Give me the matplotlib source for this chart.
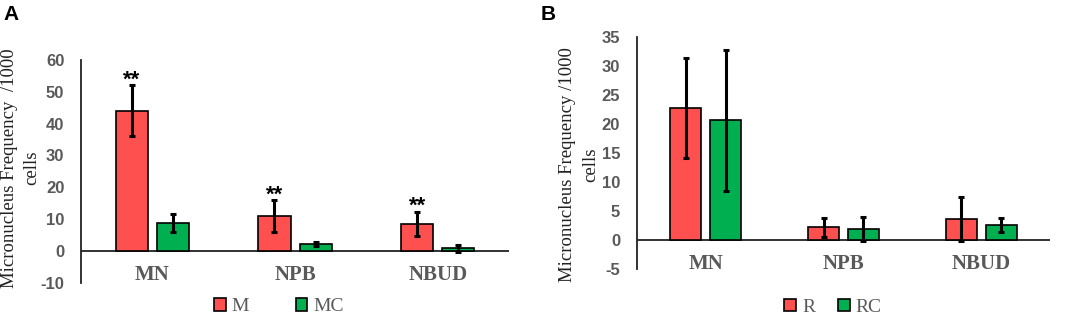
import matplotlib.pyplot as plt
import numpy as np

plt.rcParams['axes.unicode_minus'] = False

categories = ['MN', 'NPB', 'NBUD']

# Panel A: M vs MC
m_values = [44.0, 11.0, 8.5]
m_errors = [8.0, 5.0, 3.9]
mc_values = [8.8, 2.2, 0.8]
mc_errors = [2.9, 0.6, 1.2]
m_stars = ['**', '**', '**']

# Panel B: R vs RC
r_values = [22.7, 2.2, 3.6]
r_errors = [8.6, 1.6, 3.8]
rc_values = [20.6, 1.9, 2.6]
rc_errors = [12.1, 2.0, 1.2]

RED = '#ff5050'
GREEN = '#00b050'
GREY = '#595959'
SERIF = 'Liberation Serif'
SANS = 'Liberation Sans'


def draw_panel(ax, vals1, errs1, vals2, errs2, names, ylim, step,
               legend_x, legend_y, colspace, stars=None):
    """Draw one grouped bar panel with error bars."""
    x = np.arange(len(categories))
    w = 0.225
    off = 0.144
    ekw = dict(ecolor='black', elinewidth=2.2, capsize=2.3, capthick=2.2)
    ax.bar(x - off, vals1, w, yerr=errs1, color=RED, edgecolor='black',
           linewidth=1.2, label=names[0], error_kw=ekw, zorder=2)
    ax.bar(x + off, vals2, w, yerr=errs2, color=GREEN, edgecolor='black',
           linewidth=1.2, label=names[1], error_kw=ekw, zorder=2)
    if stars:
        for i, s in enumerate(stars):
            ax.annotate(s, xy=(x[i] - off, vals1[i] + errs1[i]),
                        xytext=(0, -4), textcoords='offset points',
                        ha='center', va='bottom', fontsize=16,
                        fontweight='bold', family=SANS, color='black')
    ax.set_xlim(-0.5, len(categories) - 0.5)
    ax.set_ylim(*ylim)
    ax.set_yticks(np.arange(ylim[0], ylim[1] + 1, step))
    ax.axhline(0, color='#222222', linewidth=1.3, zorder=1)
    for side in ['top', 'right', 'bottom']:
        ax.spines[side].set_visible(False)
    ax.spines['left'].set_linewidth(1.3)
    ax.spines['left'].set_color('#222222')
    ax.tick_params(axis='both', length=0)
    ax.set_xticks([])
    for lab in ax.get_yticklabels():
        lab.set_fontweight('bold')
        lab.set_fontfamily(SANS)
        lab.set_fontsize(12)
        lab.set_color(GREY)
    ax.tick_params(axis='y', pad=12)
    # category labels just below the zero line
    for i, c in enumerate(categories):
        ax.annotate(c, xy=(x[i], 0), xytext=(0, -10), textcoords='offset points',
                    ha='center', va='top', fontsize=15, fontweight='bold',
                    family=SERIF, color=GREY)
    leg = ax.legend(loc='center', bbox_to_anchor=(legend_x, legend_y), ncol=2,
                    frameon=False, prop={'family': SERIF, 'size': 14},
                    handlelength=0.6, handleheight=0.6, handletextpad=0.3,
                    columnspacing=colspace, borderpad=0)
    for t in leg.get_texts():
        t.set_color(GREY)


fig = plt.figure(figsize=(10.65, 3.15), dpi=100)
ax_a = fig.add_axes([0.076, 0.102, 0.402, 0.708])
ax_b = fig.add_axes([0.598, 0.146, 0.388, 0.737])

draw_panel(ax_a, m_values, m_errors, mc_values, mc_errors, ['M', 'MC'],
           (-10, 60), 10, 0.462, -0.108, 2.4, stars=m_stars)
draw_panel(ax_b, r_values, r_errors, rc_values, rc_errors, ['R', 'RC'],
           (-5, 35), 5, 0.475, -0.164, 1.2)

ax_a.set_ylabel('Micronucleus Frequency  /1000\ncells', family=SERIF,
                fontsize=13.5, color='#222222', linespacing=1.45)
ax_a.yaxis.set_label_coords(-0.094, 0.515)
ax_b.set_ylabel('Micronucleus Frequency /1000\ncells', family=SERIF,
                fontsize=13.5, color='#222222', linespacing=1.45)
ax_b.yaxis.set_label_coords(-0.092, 0.45)

fig.text(0.003, 0.985, 'A', fontsize=15, fontweight='bold', family=SANS,
         va='top')
fig.text(0.508, 0.985, 'B', fontsize=15, fontweight='bold', family=SANS,
         va='top')

fig.savefig('out.png', dpi=100)
